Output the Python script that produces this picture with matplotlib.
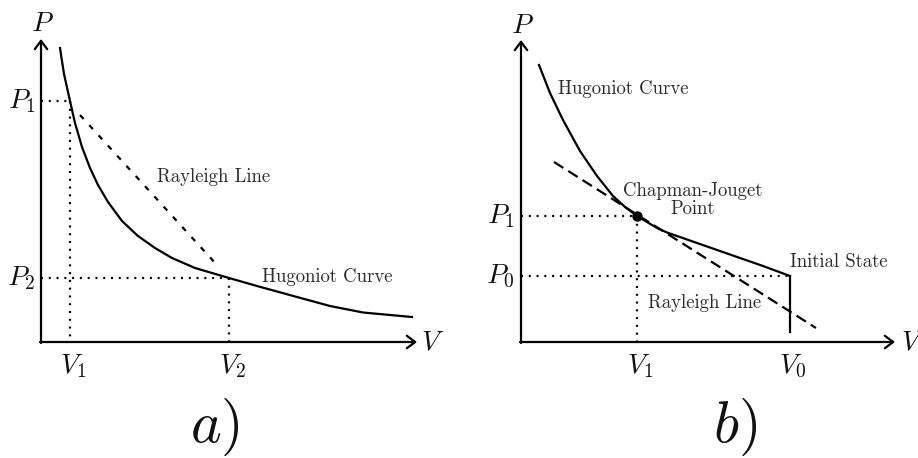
import matplotlib
matplotlib.use("Agg")
import matplotlib.pyplot as plt

plt.rcParams["mathtext.fontset"] = "cm"
plt.rcParams["axes.formatter.use_mathtext"] = True

# ---- panel a): Hugoniot curve with a Rayleigh line between two states ----
a_hug_V = [1.9, 2.3, 2.9, 3.4, 4.1, 4.9, 5.7, 6.7, 8.1, 9.7, 11.4, 13.1,
           15.4, 18.8, 21.6, 25.6, 28.9, 32.2, 37.1]
a_hug_P = [29.4, 26.8, 24.1, 21.9, 19.5, 17.4, 15.7, 14.0, 12.1, 10.6, 9.4,
           8.4, 7.4, 6.4, 5.6, 4.5, 3.6, 2.95, 2.5]
a_ray_V = [3.9, 17.6]
a_ray_P = [22.7, 7.7]
a_state_V = [2.9, 18.8]          # V1, V2
a_state_P = [24.1, 6.4]          # P1, P2
a_V_labels = [r"$V_1$", r"$V_2$"]
a_P_labels = [r"$P_1$", r"$P_2$"]

# ---- panel b): Chapman-Jouguet tangency ----
b_hug_V = [1.8, 2.9, 4.2, 5.9, 7.6, 9.2, 10.4, 11.6, 12.6, 13.6, 14.6,
           15.6, 17.6, 20.9, 24.2, 26.9]
b_hug_P = [27.7, 24.9, 22.2, 19.1, 16.6, 14.6, 13.5, 12.6, 12.0, 11.4,
           10.95, 10.6, 9.9, 8.75, 7.6, 6.6]
b_ray_V = [3.3, 29.5]
b_ray_P = [18.0, 1.4]
b_cj = (11.6, 12.6)              # (V1, P1)
b_init = (26.9, 6.6)             # (V0, P0)
b_init_drop_P = 1.0
b_V_labels = [r"$V_1$", r"$V_0$"]
b_P_labels = [r"$P_1$", r"$P_0$"]

TXT = dict(family="cmr10", fontsize=13.5, color="#2b2b2b")
MATH = dict(fontsize=20, color="#111111")
LW = 1.6
DOT = (0, (0.9, 2.6))

fig = plt.figure(figsize=(9.18, 4.58), dpi=100)
axA = fig.add_axes([0.0, 0.0, 0.5, 1.0])
axB = fig.add_axes([0.5, 0.0, 0.5, 1.0])
axA.set_xlim(-4.1, 41.8)
axB.set_xlim(-6.2, 39.7)
for ax in (axA, axB):
    ax.set_ylim(-11.6, 34.2)
    ax.axis("off")


def draw_axes(ax, vmax, pmax):
    arrow = dict(arrowstyle="->,head_length=0.6,head_width=0.45",
                 lw=LW, color="black", shrinkA=0, shrinkB=0,
                 mutation_scale=10)
    ax.annotate("", xy=(vmax, 0), xytext=(-0.1, 0), arrowprops=arrow)
    ax.annotate("", xy=(0, pmax), xytext=(0, -0.1), arrowprops=arrow)


# panel a
draw_axes(axA, 37.6, 30.3)
axA.plot(a_hug_V, a_hug_P, color="black", lw=LW, solid_joinstyle="round")
axA.plot(a_ray_V, a_ray_P, color="black", lw=LW, linestyle=(0, (2.4, 3.8)))
for v, p in zip(a_state_V, a_state_P):
    axA.plot([0, v], [p, p], color="black", lw=LW, linestyle=DOT)
    axA.plot([v, v], [p, 0], color="black", lw=LW, linestyle=DOT)
for v, lab in zip(a_state_V, a_V_labels):
    axA.text(v + 0.3, -1.0, lab, ha="center", va="top", **MATH)
for p, lab in zip(a_state_P, a_P_labels):
    axA.text(-0.5, p, lab, ha="right", va="center", **MATH)
axA.text(0.1, 31.9, r"$P$", ha="center", va="center", **MATH)
axA.text(38.0, 0, r"$V$", ha="left", va="center", **MATH)
axA.text(11.6, 16.5, "Rayleigh Line", ha="left", va="center", **TXT)
axA.text(22.1, 6.5, "Hugoniot Curve", ha="left", va="center", **TXT)
axA.text(17.4, -8.5, r"$a)$", ha="center", va="center", fontsize=42,
         color="#111111")

# panel b
draw_axes(axB, 37.4, 30.2)
axB.plot(b_hug_V, b_hug_P, color="black", lw=LW, solid_joinstyle="round")
axB.plot([b_init[0], b_init[0]], [b_init[1], b_init_drop_P], color="black",
         lw=LW)
axB.plot(b_ray_V, b_ray_P, color="black", lw=LW, linestyle=(0, (5, 2.6)))
for (v, p) in (b_cj, b_init):
    axB.plot([0, v], [p, p], color="black", lw=LW, linestyle=DOT)
axB.plot([b_cj[0], b_cj[0]], [b_cj[1], 0], color="black", lw=LW,
         linestyle=DOT)
axB.plot([b_cj[0]], [b_cj[1]], "o", color="black", markersize=6.5)
for v, lab in zip([b_cj[0], b_init[0]], b_V_labels):
    axB.text(v + 0.3, -1.0, lab, ha="center", va="top", **MATH)
for p, lab in zip([b_cj[1], b_init[1]], b_P_labels):
    axB.text(-0.6, p, lab, ha="right", va="center", **MATH)
axB.text(0.1, 31.7, r"$P$", ha="center", va="center", **MATH)
axB.text(38.0, 0, r"$V$", ha="left", va="center", **MATH)
axB.text(3.7, 25.3, "Hugoniot Curve", ha="left", va="center", **TXT)
axB.text(17.2, 14.2, "Chapman-Jouget\nPoint", ha="center", va="center",
         linespacing=1.05, **TXT)
axB.text(26.9, 8.0, "Initial State", ha="left", va="center", **TXT)
axB.text(12.7, 3.9, "Rayleigh Line", ha="left", va="center", **TXT)
axB.text(21.4, -8.5, r"$b)$", ha="center", va="center", fontsize=42,
         color="#111111")

fig.savefig("out.png", dpi=100, facecolor="white")
